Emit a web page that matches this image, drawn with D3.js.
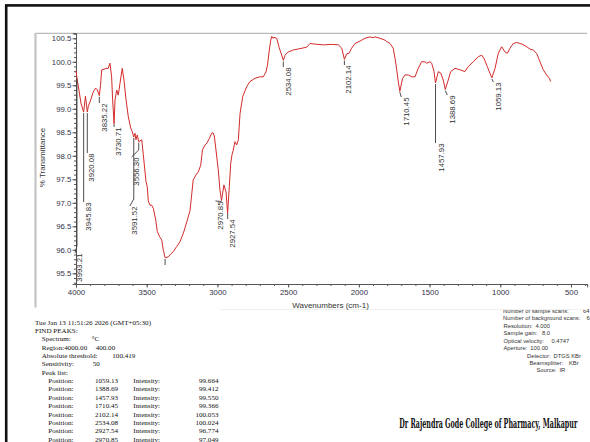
<!DOCTYPE html>
<html><head><meta charset="utf-8">
<script src="https://cdn.jsdelivr.net/npm/d3@7"></script>
<style>body{margin:0;background:#fff}svg{display:block}</style>
</head><body>
<svg id="c" width="590" height="442"></svg>
<script>
// ---------- DATA ----------
const wavenumbers = [
 4000,3991,3977,3965,3946,3933,3920,3913,3896,3878,
 3861,3849,3835,3827,3818,3802,3788,3772,3760,3748,
 3741,3731,3724,3712,3701,3689,3673,3661,3646,3630,
 3613,3602,3592,3583,3576,3567,3556,3535,3524,3505,
 3496,3489,3477,3465,3453,3436,3425,3411,3394,3383,
 3370,3347,3330,3312,3288,3265,3241,3217,3194,3182,
 3171,3152,3135,3118,3106,3088,3074,3057,3041,3031,
 3022,3010,2994,2982,2971,2954,2939,2928,2916,2906,
 2897,2888,2876,2864,2852,2840,2821,2793,2770,2734,
 2699,2676,2657,2646,2633,2623,2616,2607,2600,2581,
 2563,2551,2534,2522,2499,2464,2416,2369,2345,2322,
 2251,2192,2145,2121,2102,2086,2070,2051,2027,1992,
 1957,1921,1900,1886,1851,1815,1803,1780,1757,1744,
 1732,1723,1710,1698,1690,1674,1650,1626,1603,1580,
 1556,1532,1520,1497,1485,1469,1458,1438,1421,1403,
 1389,1368,1351,1320,1285,1250,1226,1191,1155,1131,
 1115,1092,1068,1059,1037,1014,990,967,950,931,
 908,884,849,813,790,767,743,719,696,672,
 653,644];
const transmittance = [
 99.81,99.61,99.36,99.12,98.93,99.27,98.93,99.05,99.19,99.36,
 99.44,99.40,99.28,99.49,99.83,99.84,99.86,99.86,99.97,99.68,
 99.19,98.68,99.19,99.40,99.29,99.54,99.86,99.61,99.19,98.83,
 98.59,98.51,98.40,98.48,98.34,98.44,98.30,98.34,98.02,97.45,
 97.34,97.04,96.95,96.95,96.88,96.63,96.39,96.29,96.21,96.00,
 95.83,95.85,95.91,95.96,96.07,96.17,96.35,96.59,96.83,97.17,
 97.49,97.59,97.66,97.80,98.12,98.23,98.27,98.37,98.48,98.49,
 98.42,98.12,97.70,97.27,97.05,97.38,97.23,96.77,97.34,97.84,
 98.02,98.12,98.30,98.23,98.34,98.90,99.26,99.47,99.58,99.65,
 99.68,99.68,99.78,99.93,100.25,100.46,100.54,100.50,100.52,100.50,
 100.30,100.19,100.03,100.14,100.21,100.25,100.28,100.31,100.39,100.38,
 100.36,100.37,100.36,100.29,100.05,100.17,100.18,100.29,100.39,100.44,
 100.50,100.53,100.51,100.53,100.50,100.46,100.43,100.39,100.29,100.07,
 99.83,99.61,99.37,99.55,99.65,99.72,99.72,99.68,99.68,99.86,
 100.00,100.00,99.97,100.00,99.97,99.80,99.55,99.79,99.76,99.61,
 99.41,99.61,99.79,99.86,99.83,99.79,99.90,100.00,100.11,100.14,
 100.07,99.90,99.72,99.66,99.86,100.18,100.32,100.21,100.18,100.29,
 100.39,100.41,100.38,100.32,100.27,100.25,100.18,100.00,99.83,99.72,
 99.65,99.58];

const peakWavenumbers = [3993.21,3945.83,3920.08,3835.22,3730.71,3591.52,3556.30,3370,2970.85,2927.54,2534.08,2102.14,1710.45,1457.93,1388.69,1059.13];
const peakLabels = ["3993.21","3945.83","3920.08","3835.22","3730.71","3591.52","3556.30","","2970.85","2927.54","2534.08","2102.14","1710.45","1457.93","1388.69","1059.13"];

const xTickValues = [4000,3500,3000,2500,2000,1500,1000,500];
const yTickValues = [95.5,96.0,96.5,97.0,97.5,98.0,98.5,99.0,99.5,100.0,100.5];

const listPositions = ["1059.13","1388.69","1457.93","1710.45","2102.14","2534.08","2927.54","2970.85"];
const listIntensities = ["99.664","99.412","99.550","99.366","100.053","100.024","96.774","97.049"];

const headerLines = ["Tue Jan 13 11:51:26 2026 (GMT+05:30)","FIND PEAKS:"];
const paramNames = ["Spectrum:","Region:4000.00","Absolute threshold:","Sensitivity:","Peak list:"];
const paramValues = ["°C","400.00","100.419","50",""];

const instLabels = ["Number of sample scans:","Number of background scans:","Resolution:","Sample gain:","Optical velocity:","Aperture:","Detector:","Beamsplitter:","Source:"];
const instValues = ["64","64","4.000","8.0","0.4747","100.00","DTGS KBr","KBr","IR"];

const footerText = "Dr Rajendra Gode College of Pharmacy, Malkapur";

// ---------- LAYOUT (pixels) ----------
const labelTop   = [253,202,153,103,127,206,157,265,201,219,67,65,97,143,95,82];
const labelShift = [2.5,4.4,4,4.5,4,0.6,-2.7,0,-1.6,5,4.7,3.5,6,5.5,6.5,6];
const instX  = [503,503,503.5,503.5,503.5,503.5,527,529.5,536.5];
const instVX = [583,586.5,535,542,551.5,527.3,553,569,555];

// ---------- DRAW ----------
const svg = d3.select("#c");
const sans = "'Liberation Sans', Arial, Helvetica, sans-serif";
const serif = "'Liberation Serif', 'Times New Roman', serif";

svg.append("rect").attr("width",590).attr("height",442).attr("fill","#fff");

// instrument params block (partly hidden under chart frame)
const inst = svg.append("g").attr("font-family",sans).attr("font-size",5.8).attr("fill","#333");
instLabels.forEach((t,i)=>{
  const yy = 312.8 + i*7.45;
  const lab = inst.append("text").attr("x",instX[i]).attr("y",yy).text(t);
  const endX = instX[i] + lab.node().getComputedTextLength() + 3;
  inst.append("text").attr("x",Math.max(instVX[i], endX)).attr("y",yy).text(instValues[i]);
});

// chart frame
svg.append("rect").attr("x",35).attr("y",33.3).attr("width",560).attr("height",275.7).attr("fill","#fff");
svg.append("line").attr("x1",35).attr("x2",587).attr("y1",33.3).attr("y2",33.3).attr("stroke","#a8a8a8").attr("stroke-width",1);
svg.append("line").attr("x1",35.5).attr("x2",35.5).attr("y1",33).attr("y2",307.5).attr("stroke","#c4c4c4").attr("stroke-width",2.2);
svg.append("line").attr("x1",220).attr("x2",587).attr("y1",309.5).attr("y2",309.5).attr("stroke","#f0f0f0").attr("stroke-width",1);

// outer border
svg.append("rect").attr("x",6.2).attr("y",5.4).attr("width",620).attr("height",480)
  .attr("fill","none").attr("stroke","#111").attr("stroke-width",2.6);

// scales
const x = d3.scaleLinear().domain([4000,386]).range([76,587.1]);
const y = d3.scaleLinear().domain([95.272,100.606]).range([284,33.3]);

// axes
const axCol = "#555", txtCol = "#33334a";
const gx = svg.append("g").attr("transform","translate(0,284)");
gx.call(d3.axisBottom(x).tickValues(d3.range(3900,390,-100)).tickSize(2).tickFormat(""));
const gx2 = svg.append("g").attr("transform","translate(0,284)");
gx2.call(d3.axisBottom(x).tickValues(xTickValues).tickSize(3.5).tickPadding(2).tickFormat(d3.format("d")));
[gx,gx2].forEach(g=>{g.select(".domain").attr("stroke",axCol).attr("stroke-width",0.9);
  g.selectAll(".tick line").attr("stroke",axCol);
  g.selectAll("text").attr("font-family",sans).attr("font-size",7.8).attr("fill",txtCol);});

const gy = svg.append("g").attr("transform","translate(76,0)");
gy.call(d3.axisLeft(y).tickValues(d3.range(95.3,100.65,0.1)).tickSize(2).tickFormat(""));
const gy2 = svg.append("g").attr("transform","translate(76,0)");
gy2.call(d3.axisLeft(y).tickValues(yTickValues).tickSize(3.5).tickPadding(1.2).tickFormat(d3.format(".1f")));
[gy,gy2].forEach(g=>{g.select(".domain").attr("stroke",axCol).attr("stroke-width",0.9);
  g.selectAll(".tick line").attr("stroke",axCol);
  g.selectAll("text").attr("font-family",sans).attr("font-size",7.8).attr("fill",txtCol);});

svg.append("text").attr("transform","translate(44.5,157.5) rotate(-90)").attr("text-anchor","middle")
  .attr("font-family",sans).attr("font-size",8).attr("fill","#333").text("% Transmittance");
svg.append("text").attr("x",330.5).attr("y",307.8).attr("text-anchor","middle")
  .attr("font-family",sans).attr("font-size",8).attr("fill","#333").text("Wavenumbers (cm-1)");

// spectrum
const pts = d3.zip(wavenumbers, transmittance);
svg.append("path").datum(pts)
  .attr("d", d3.line().x(d=>x(d[0])).y(d=>y(d[1])))
  .attr("fill","none").attr("stroke","#d42a2a").attr("stroke-width",1);

// interpolate spectrum for marker tops
function tAt(w){
  for(let i=0;i<wavenumbers.length-1;i++){
    const a=wavenumbers[i], b=wavenumbers[i+1];
    if(w<=a && w>=b){ const f=(a-w)/(a-b); return transmittance[i]+f*(transmittance[i+1]-transmittance[i]); }
  }
  return transmittance[transmittance.length-1];
}

const pk = svg.append("g");
peakWavenumbers.forEach((w,i)=>{
  const px = x(w), py = y(tAt(w)) + 1.2;
  const lt = labelTop[i];
  const lc = px + labelShift[i];
  const ex = lc - 4.5;
  let line;
  if (peakLabels[i]==="" ) line = [[px,py],[px,lt]];
  else if (Math.abs(ex-px) < 1.2) line = [[px,py],[px,lt]];
  else { const mid = Math.max(py, lt-7); line = [[px,py],[px,mid],[ex,lt]]; }
  pk.append("path").attr("d", d3.line()(line)).attr("fill","none").attr("stroke","#3a3a3a").attr("stroke-width",0.9);
  if (peakLabels[i]!=="") {
    pk.append("text").attr("transform",`translate(${lc},${lt+0.5}) rotate(-90)`)
      .attr("text-anchor","end").attr("dy","0.35em")
      .attr("font-family",sans).attr("font-size",7.8).attr("fill","#2e2e2e").text(peakLabels[i]);
  }
});

// report text block
const rep = svg.append("g").attr("font-family",serif).attr("font-size",7.1).attr("fill","#111");
const base = 324.6, step = 8.36;
headerLines.forEach((t,i)=>rep.append("text").attr("x",35).attr("y",base+i*step).text(t));
const pvx = [91.7,95.7,112.3,92.7,0];
paramNames.forEach((t,i)=>{
  const yy = base+(i+2)*step;
  rep.append("text").attr("x",41.7).attr("y",yy).text(t);
  if(paramValues[i]) rep.append("text").attr("x",pvx[i]).attr("y",yy).text(paramValues[i]);
});
listPositions.forEach((p,i)=>{
  const yy = base+(i+7)*step;
  rep.append("text").attr("x",48.3).attr("y",yy).text("Position:");
  rep.append("text").attr("x",95).attr("y",yy).text(p);
  rep.append("text").attr("x",133.3).attr("y",yy).text("Intensity:");
  rep.append("text").attr("x",218.5).attr("y",yy).attr("text-anchor","end").text(listIntensities[i]);
});

// footer
svg.append("text").attr("x",399.3).attr("y",427.6)
  .attr("font-family","'DejaVu Serif Condensed', 'DejaVu Serif', 'Liberation Serif', serif")
  .attr("font-weight","bold").attr("font-size",12).attr("fill","#111")
  .attr("textLength",178).attr("lengthAdjust","spacingAndGlyphs").text(footerText);
</script>
</body></html>
